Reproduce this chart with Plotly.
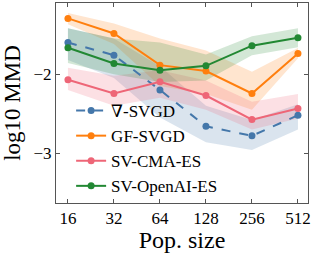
import plotly.graph_objects as go

pop_sizes = [16, 32, 64, 128, 256, 512]
series_names = ["∇-SVGD", "GF-SVGD", "SV-CMA-ES", "SV-OpenAI-ES"]

svgd_mean = [-1.60, -1.76, -2.20, -2.66, -2.78, -2.52]
svgd_low = [-1.82, -2.05, -2.55, -2.86, -2.96, -2.70]
svgd_high = [-1.42, -1.55, -1.90, -2.40, -2.58, -2.38]

gf_mean = [-1.295, -1.485, -1.886, -1.96, -2.245, -1.74]
gf_low = [-1.37, -1.62, -2.15, -2.25, -2.45, -1.80]
gf_high = [-1.225, -1.36, -1.55, -1.70, -1.97, -1.67]

cma_mean = [-2.07, -2.245, -2.097, -2.27, -2.575, -2.435]
cma_low = [-2.20, -2.40, -2.30, -2.45, -2.70, -2.56]
cma_high = [-1.92, -2.02, -1.95, -2.08, -2.35, -2.25]

oai_mean = [-1.667, -1.865, -1.95, -1.895, -1.64, -1.54]
oai_low = [-1.86, -2.00, -2.10, -2.08, -1.76, -1.66]
oai_high = [-1.42, -1.55, -1.60, -1.75, -1.52, -1.42]

colors = ["#4477AA", "#FF7F0E", "#EE6677", "#228833"]
fills = ["rgba(68,119,170,0.2)", "rgba(255,127,14,0.2)", "rgba(238,102,119,0.2)", "rgba(34,136,51,0.2)"]
dashes = ["dash", "solid", "solid", "solid"]

means = [svgd_mean, gf_mean, cma_mean, oai_mean]
lows = [svgd_low, gf_low, cma_low, oai_low]
highs = [svgd_high, gf_high, cma_high, oai_high]

fig = go.Figure()
for i in range(4):
    fig.add_trace(go.Scatter(
        x=pop_sizes + pop_sizes[::-1],
        y=highs[i] + lows[i][::-1],
        fill="toself", fillcolor=fills[i], line=dict(width=0),
        mode="lines", showlegend=False, hoverinfo="skip"))
for i in range(4):
    fig.add_trace(go.Scatter(
        x=pop_sizes, y=means[i], name=series_names[i], mode="lines+markers",
        line=dict(color=colors[i], width=2, dash=dashes[i]),
        marker=dict(color=colors[i], size=7)))

font_family = "Liberation Serif, DejaVu Serif, serif"
axis_common = dict(showline=True, mirror="ticks", linecolor="#555555", linewidth=1,
                   ticks="inside", ticklen=4, tickcolor="#555555", showgrid=False,
                   zeroline=False, tickfont=dict(family=font_family, size=17, color="black"))

fig.update_layout(
    width=316, height=253,
    margin=dict(l=56, r=8, t=3, b=50),
    paper_bgcolor="white", plot_bgcolor="white",
    font=dict(family=font_family, color="black"),
    showlegend=True,
    legend=dict(x=0.06, y=0.55, xanchor="left", yanchor="top",
                bgcolor="rgba(0,0,0,0)", font=dict(family=font_family, size=17),
                itemwidth=30),
    xaxis=dict(type="log", range=[1.126, 2.775], tickvals=pop_sizes,
               ticktext=[str(v) for v in pop_sizes],
               title=dict(text="Pop. size", font=dict(family=font_family, size=24), standoff=4),
               **axis_common),
    yaxis=dict(range=[-3.63, -1.10], tickvals=[-3, -2], ticktext=["−3", "−2"],
               title=dict(text="log10 MMD", font=dict(family=font_family, size=23), standoff=6),
               **axis_common),
)
fig.write_html("out.html", config={"displayModeBar": False},
               post_script="document.body.style.margin='0px';")
